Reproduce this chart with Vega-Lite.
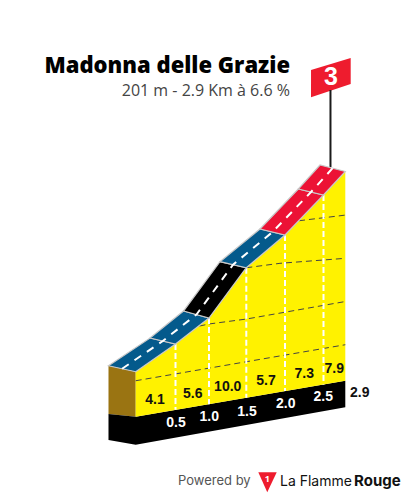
{
"$schema":"https://vega.github.io/schema/vega-lite/v6.json",
"width":405,"height":498,"padding":0,"autosize":{"type":"none"},
"background":"white",
"config":{"view":{"stroke":null}},
"datasets":{
"solids":[
{"s":"side","c":"brown","i":0,"km":-0.34,"h":-24.3},{"s":"side","c":"brown","i":1,"km":0,"h":-31.25},{"s":"side","c":"brown","i":2,"km":0,"h":-83.3},{"s":"side","c":"brown","i":3,"km":-0.34,"h":-80.2},
{"s":"band","c":"black","i":0,"km":-0.34,"h":-80.2},{"s":"band","c":"black","i":1,"km":0,"h":-83.3},{"s":"band","c":"black","i":2,"km":2.9,"h":-41.7},{"s":"band","c":"black","i":3,"km":2.9,"h":-72.5},{"s":"band","c":"black","i":4,"km":0,"h":-115.9},{"s":"band","c":"black","i":5,"km":-0.34,"h":-110.3},
{"s":"face","c":"yellow","i":0,"km":0,"h":-31.25},{"s":"face","c":"yellow","i":1,"km":0.5,"h":0.8},{"s":"face","c":"yellow","i":2,"km":1,"h":30.9},{"s":"face","c":"yellow","i":3,"km":1.5,"h":89.1},{"s":"face","c":"yellow","i":4,"km":2,"h":127},{"s":"face","c":"yellow","i":5,"km":2.5,"h":173.3},{"s":"face","c":"yellow","i":6,"km":2.9,"h":200.5},{"s":"face","c":"yellow","i":7,"km":2.9,"h":-41.7},{"s":"face","c":"yellow","i":8,"km":0,"h":-83.3},
{"s":"flag","c":"flag","i":0,"km":2.338,"h":317.9},{"s":"flag","c":"flag","i":1,"km":2.9675,"h":331.8},{"s":"flag","c":"flag","i":2,"km":2.9675,"h":301.7},{"s":"flag","c":"flag","i":3,"km":2.338,"h":286.3},
{"s":"logo","c":"flag","i":0,"km":1.655,"h":-147.7},{"s":"logo","c":"flag","i":1,"km":1.893,"h":-147.7},{"s":"logo","c":"flag","i":2,"km":1.771,"h":-170.8}
],
"road":[
{"s":"r1","c":"blue","i":0,"km":0,"h":-31.25},{"s":"r1","c":"blue","i":1,"km":0.5,"h":0.8},{"s":"r1","c":"blue","i":2,"km":0.18,"h":7.75},{"s":"r1","c":"blue","i":3,"km":-0.34,"h":-24.3},
{"s":"r2","c":"blue","i":0,"km":0.5,"h":0.8},{"s":"r2","c":"blue","i":1,"km":1,"h":30.9},{"s":"r2","c":"blue","i":2,"km":0.62,"h":39},{"s":"r2","c":"blue","i":3,"km":0.18,"h":7.75},
{"s":"r3","c":"black","i":0,"km":1,"h":30.9},{"s":"r3","c":"black","i":1,"km":1.5,"h":89.1},{"s":"r3","c":"black","i":2,"km":1.147,"h":96.1},{"s":"r3","c":"black","i":3,"km":0.62,"h":39},
{"s":"r4","c":"blue","i":0,"km":1.5,"h":89.1},{"s":"r4","c":"blue","i":1,"km":2,"h":127},{"s":"r4","c":"blue","i":2,"km":1.677,"h":133.9},{"s":"r4","c":"blue","i":3,"km":1.147,"h":96.1},
{"s":"r5","c":"red","i":0,"km":2,"h":127},{"s":"r5","c":"red","i":1,"km":2.5,"h":173.3},{"s":"r5","c":"red","i":2,"km":2.173,"h":180.2},{"s":"r5","c":"red","i":3,"km":1.677,"h":133.9},
{"s":"r6","c":"red","i":0,"km":2.5,"h":173.3},{"s":"r6","c":"red","i":1,"km":2.9,"h":200.5},{"s":"r6","c":"red","i":2,"km":2.455,"h":208},{"s":"r6","c":"red","i":3,"km":2.173,"h":180.2}
],
"grid":[
{"m":0,"i":0,"km":0,"h":-41.7},{"m":0,"i":1,"km":2.9,"h":0},
{"m":50,"i":0,"km":0.858,"h":21.6},{"m":50,"i":1,"km":1,"h":24},{"m":50,"i":2,"km":1.5,"h":29.7},{"m":50,"i":3,"km":2.9,"h":50},
{"m":100,"i":0,"km":1.5,"h":89.1},{"m":100,"i":1,"km":1.935,"h":94.2},{"m":100,"i":2,"km":2.9,"h":100},
{"m":150,"i":0,"km":2.182,"h":143.5},{"m":150,"i":1,"km":2.9,"h":150}
],
"ticks":[
{"km":0.5,"h":0.8,"b":-75.4},{"km":1,"h":30.9,"b":-68.8},{"km":1.5,"h":89.1,"b":-61.3},{"km":2,"h":127,"b":-53.6},{"km":2.5,"h":173.3,"b":-45.9}
],
"center":[
{"i":0,"km":-0.17,"h":-27.8},{"i":1,"km":0.34,"h":4.3},{"i":2,"km":0.813,"h":35},{"i":3,"km":1.322,"h":92.6},{"i":4,"km":1.838,"h":130.4},{"i":5,"km":2.338,"h":176.7},{"i":6,"km":2.667,"h":204.3}
],
"pole":[{"km":2.628,"h":294.8,"b":205.7}],
"grades":[
{"t":"4.1","km":0.2425,"h":-64},{"t":"5.6","km":0.757,"h":-57.1},{"t":"10.0","km":1.251,"h":-49},{"t":"5.7","km":1.755,"h":-41.7},{"t":"7.3","km":2.25,"h":-33.9},{"t":"7.9","km":2.698,"h":-28.1}
],
"kms":[
{"t":"0.5","km":0.507,"h":-91},{"t":"1.0","km":1.004,"h":-84},{"t":"1.5","km":1.509,"h":-77.5},{"t":"2.0","km":2.009,"h":-68.6},{"t":"2.5","km":2.497,"h":-60.9}
]
},
"encoding":{
"x":{"field":"km","type":"quantitative","axis":null,"scale":{"domain":[-1.696,0,0.5,1,1.5,2,2.5,2.9,3.646],"range":[0,135.7,175.5,209,246.3,285,323.5,345.3,405],"clamp":false}},
"y":{"field":"h","type":"quantitative","scale":{"domain":[-177.4,398.96],"range":[498,0],"nice":false,"zero":false},"axis":null}
},
"layer":[
{"data":{"name":"solids"},"mark":{"type":"line","filled":true,"interpolate":"linear-closed","strokeWidth":0},
"encoding":{"order":{"field":"i","type":"quantitative"},"detail":{"field":"s"},
"color":{"field":"c","type":"nominal","legend":null,"scale":{"domain":["brown","black","yellow","flag","blue","red"],"range":["#9a7412","#000000","#fff200","#ee1c2e","#045a8c","#ec1235"]}}}},
{"data":{"name":"grid"},"mark":{"type":"line","stroke":"#444444","strokeWidth":1,"strokeDash":[6,4]},
"encoding":{"order":{"field":"i","type":"quantitative"},"detail":{"field":"m"}}},
{"data":{"name":"ticks"},"mark":{"type":"rule","stroke":"#ffffff","strokeWidth":2,"strokeDash":[6,3]},
"encoding":{"y2":{"field":"b"}}},
{"data":{"name":"pole"},"mark":{"type":"rule","stroke":"#1a1a1a","strokeWidth":2},
"encoding":{"y2":{"field":"b"}}},
{"data":{"name":"road"},"mark":{"type":"line","filled":true,"interpolate":"linear-closed","stroke":"#c8c8c8","strokeWidth":1.2},
"encoding":{"order":{"field":"i","type":"quantitative"},"detail":{"field":"s"},
"color":{"field":"c","type":"nominal","legend":null}}},
{"data":{"name":"center"},"mark":{"type":"line","stroke":"#ffffff","strokeWidth":2,"strokeDash":[8,7]},
"encoding":{"order":{"field":"i","type":"quantitative"}}},
{"data":{"name":"grades"},"mark":{"type":"text","font":"Liberation Sans","fontWeight":"bold","fontSize":14,"fill":"#111111"},"encoding":{"text":{"field":"t"}}},
{"data":{"name":"kms"},"mark":{"type":"text","font":"Liberation Sans","fontWeight":"bold","fontSize":14,"fill":"#ffffff"},"encoding":{"text":{"field":"t"}}},
{"data":{"values":[{"t":"2.9","km":2.959,"h":-55.9}]},"mark":{"type":"text","align":"left","font":"Liberation Sans","fontWeight":"bold","fontSize":14,"fill":"#111111"},"encoding":{"text":{"field":"t"}}},
{"data":{"values":[{"t":"3","km":2.638,"h":309.8}]},"mark":{"type":"text","font":"Liberation Sans","fontWeight":"bold","fontSize":25,"fill":"#ffffff"},"encoding":{"text":{"field":"t"}}},
{"data":{"values":[{"t":"1","km":1.771,"h":-155.4}]},"mark":{"type":"text","font":"Open Sans","fontWeight":"bold","fontSize":9,"fill":"#ffffff"},"encoding":{"text":{"field":"t"}}},
{"data":{"values":[{"t":"Madonna delle Grazie","km":2.065,"h":314.5}]},"mark":{"type":"text","align":"right","baseline":"alphabetic","font":"Open Sans","fontWeight":800,"fontSize":22,"fill":"#000000"},"encoding":{"text":{"field":"t"}}},
{"data":{"values":[{"t":"201 m - 2.9 Km à 6.6 %","km":2.065,"h":287.8}]},"mark":{"type":"text","align":"right","baseline":"alphabetic","font":"Open Sans","fontSize":16,"fill":"#444444"},"encoding":{"text":{"field":"t"}}},
{"data":{"values":[{"t":"Powered by","km":0.537,"h":-157.7}]},"mark":{"type":"text","align":"left","font":"Inter","fontSize":13,"fill":"#555555"},"encoding":{"text":{"field":"t"}}},
{"data":{"values":[{"t":"La Flamme","km":1.935,"h":-163.5}]},"mark":{"type":"text","align":"left","baseline":"alphabetic","font":"Inter","fontSize":14,"fill":"#111111"},"encoding":{"text":{"field":"t"}}},
{"data":{"values":[{"t":"Rouge","km":3.009,"h":-163.5}]},"mark":{"type":"text","align":"left","baseline":"alphabetic","font":"Inter","fontWeight":"bold","fontSize":15,"fill":"#111111"},"encoding":{"text":{"field":"t"}}},
{"data":{"values":[{"m":0},{"m":50},{"m":100},{"m":150},{"m":200}]},"mark":{"type":"point","opacity":0},
"encoding":{"x":{"datum":2.9},"y":{"field":"m","type":"quantitative","scale":{"domain":[-177.4,398.96],"range":[498,0],"nice":false,"zero":false},
"axis":{"orient":"right","offset":-55,"values":[0,50,100,150,200],"title":null,"domain":false,"ticks":false,"grid":false,"labelFont":"Open Sans","labelFontSize":14,"labelColor":"#333333","labelPadding":0,"labelOffset":-4.5,"labelExpr":"datum.value+'m'"}}}}
]
}
